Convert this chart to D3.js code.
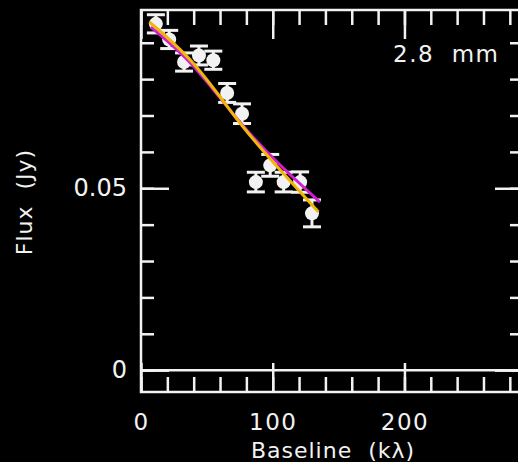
<!DOCTYPE html>
<html>
<head>
<meta charset="utf-8">
<script src="https://cdn.jsdelivr.net/npm/d3@7"></script>
<style>
  html, body { margin: 0; padding: 0; background: #000; }
  svg { display: block; }
  text { font-family: "DejaVu Sans", sans-serif; fill: #f2f2f2; white-space: pre; }
</style>
</head>
<body>
<div id="chart"></div>
<script>
// visibilities (baseline in k-lambda, flux in Jy)
var baseline = [11.3, 21.4, 32.7, 44.0, 54.9, 65.4, 76.7, 87.2, 98.1, 108.3, 120.8, 129.8];
var flux     = [0.0952, 0.0909, 0.0847, 0.0865, 0.0852, 0.0762, 0.0705, 0.0517, 0.0563, 0.0517, 0.0517, 0.0431];
var fluxErr  = [0.0025, 0.0025, 0.0025, 0.0026, 0.0025, 0.0026, 0.0027, 0.0027, 0.0030, 0.0027, 0.0028, 0.0037];

// model curves (yellow and magenta)
var fitAX = [6.3, 40, 75, 105, 134.6];
var fitAY = [0.0957, 0.0842, 0.0680, 0.0553, 0.0435];
var fitBX = [7.5, 40, 75, 105, 135.8];
var fitBY = [0.0943, 0.0835, 0.0682, 0.0566, 0.0462];

var xTickLabels = [0, 100, 200];
var yTickLabels = [0, 0.05];
var bandLabel = "2.8  mm";
var xTitle = "Baseline  (k\u03bb)";
var yTitle = "Flux  (Jy)";

var width = 518, height = 462;
var pLeft = 141, pRight = 523, pTop = 10, pBottom = 392;
var white = '#f2f2f2';

var x = d3.scaleLinear().domain([0, 290]).range([pLeft, pRight]);
var y = d3.scaleLinear().domain([-0.006, 0.099]).range([pBottom, pTop]);

var svg = d3.select('#chart').append('svg')
  .attr('width', width)
  .attr('height', height);

svg.append('rect').attr('width', width).attr('height', height).attr('fill', '#000');

var xMinor = d3.range(0, 291, 20);
var yMinor = d3.range(0, 0.0991, 0.01);

function styleAxis(g) {
  g.select('.domain').remove();
  g.selectAll('line').attr('stroke', white).attr('stroke-width', 2.5);
  g.selectAll('text').attr('font-size', 23).attr('letter-spacing', 1.5)
    .attr('font-family', '"DejaVu Sans", sans-serif').attr('fill', white);
}

// bottom
svg.append('g').attr('transform', 'translate(0,' + pBottom + ')')
  .call(d3.axisBottom(x).tickValues(xMinor).tickSize(-15).tickFormat(''))
  .call(styleAxis);
svg.append('g').attr('transform', 'translate(0,' + pBottom + ')')
  .call(d3.axisBottom(x).tickValues(xTickLabels).tickSize(-29).tickPadding(22).tickFormat(d3.format('d')))
  .call(styleAxis);
// top
svg.append('g').attr('transform', 'translate(0,' + pTop + ')')
  .call(d3.axisTop(x).tickValues(xMinor).tickSize(-15).tickFormat(''))
  .call(styleAxis);
svg.append('g').attr('transform', 'translate(0,' + pTop + ')')
  .call(d3.axisTop(x).tickValues(xTickLabels).tickSize(-29).tickFormat(''))
  .call(styleAxis);
// left
svg.append('g').attr('transform', 'translate(' + pLeft + ',0)')
  .call(d3.axisLeft(y).tickValues(yMinor).tickSize(-13).tickFormat(''))
  .call(styleAxis);
svg.append('g').attr('transform', 'translate(' + pLeft + ',0)')
  .call(d3.axisLeft(y).tickValues(yTickLabels).tickSize(-28).tickPadding(14)
    .tickFormat(function(d) { return d === 0 ? '0' : d3.format('.2f')(d); }))
  .call(styleAxis)
  .call(function(g) { g.selectAll('text').attr('letter-spacing', null).attr('font-size', 24); });
// right
svg.append('g').attr('transform', 'translate(' + pRight + ',0)')
  .call(d3.axisRight(y).tickValues(yMinor).tickSize(-13).tickFormat(''))
  .call(styleAxis);
svg.append('g').attr('transform', 'translate(' + pRight + ',0)')
  .call(d3.axisRight(y).tickValues(yTickLabels).tickSize(-28).tickFormat(''))
  .call(styleAxis);

// frame
svg.append('rect')
  .attr('x', pLeft).attr('y', pTop)
  .attr('width', pRight - pLeft).attr('height', pBottom - pTop)
  .attr('fill', 'none').attr('stroke', white).attr('stroke-width', 2.5);

// zero line
svg.append('line')
  .attr('x1', x(0)).attr('x2', pRight)
  .attr('y1', y(0)).attr('y2', y(0))
  .attr('stroke', white).attr('stroke-width', 2.5);

// points with error bars
var pts = baseline.map(function(b, i) { return {x: b, y: flux[i], e: fluxErr[i]}; });
var pg = svg.append('g').selectAll('g').data(pts).enter().append('g');
pg.append('line')
  .attr('x1', function(d) { return x(d.x); }).attr('x2', function(d) { return x(d.x); })
  .attr('y1', function(d) { return y(d.y - d.e); }).attr('y2', function(d) { return y(d.y + d.e); })
  .attr('stroke', white).attr('stroke-width', 3);
pg.selectAll('.cap').data(function(d) { return [{x: d.x, y: d.y - d.e}, {x: d.x, y: d.y + d.e}]; })
  .enter().append('line')
  .attr('x1', function(d) { return x(d.x) - 9; }).attr('x2', function(d) { return x(d.x) + 9; })
  .attr('y1', function(d) { return y(d.y); }).attr('y2', function(d) { return y(d.y); })
  .attr('stroke', white).attr('stroke-width', 3);
pg.append('circle')
  .attr('cx', function(d) { return x(d.x); })
  .attr('cy', function(d) { return y(d.y); })
  .attr('r', 7)
  .attr('fill', white);

// fit curves
var line = d3.line().x(function(d) { return x(d[0]); }).y(function(d) { return y(d[1]); }).curve(d3.curveNatural);
svg.append('path').datum(d3.zip(fitBX, fitBY))
  .attr('d', line).attr('fill', 'none').attr('stroke', '#d21ed2').attr('stroke-width', 3);
svg.append('path').datum(d3.zip(fitAX, fitAY))
  .attr('d', line).attr('fill', 'none').attr('stroke', '#f2b705').attr('stroke-width', 3);

// labels
svg.append('text').attr('x', 393).attr('y', 62)
  .attr('font-size', 23).attr('letter-spacing', 1.5).text(bandLabel);
svg.append('text').attr('x', 333).attr('y', 458).attr('text-anchor', 'middle')
  .attr('font-size', 22).attr('letter-spacing', 1).text(xTitle);
svg.append('text').attr('transform', 'translate(32,202) rotate(-90)').attr('text-anchor', 'middle')
  .attr('font-size', 22).attr('letter-spacing', 1).text(yTitle);
</script>
</body>
</html>
